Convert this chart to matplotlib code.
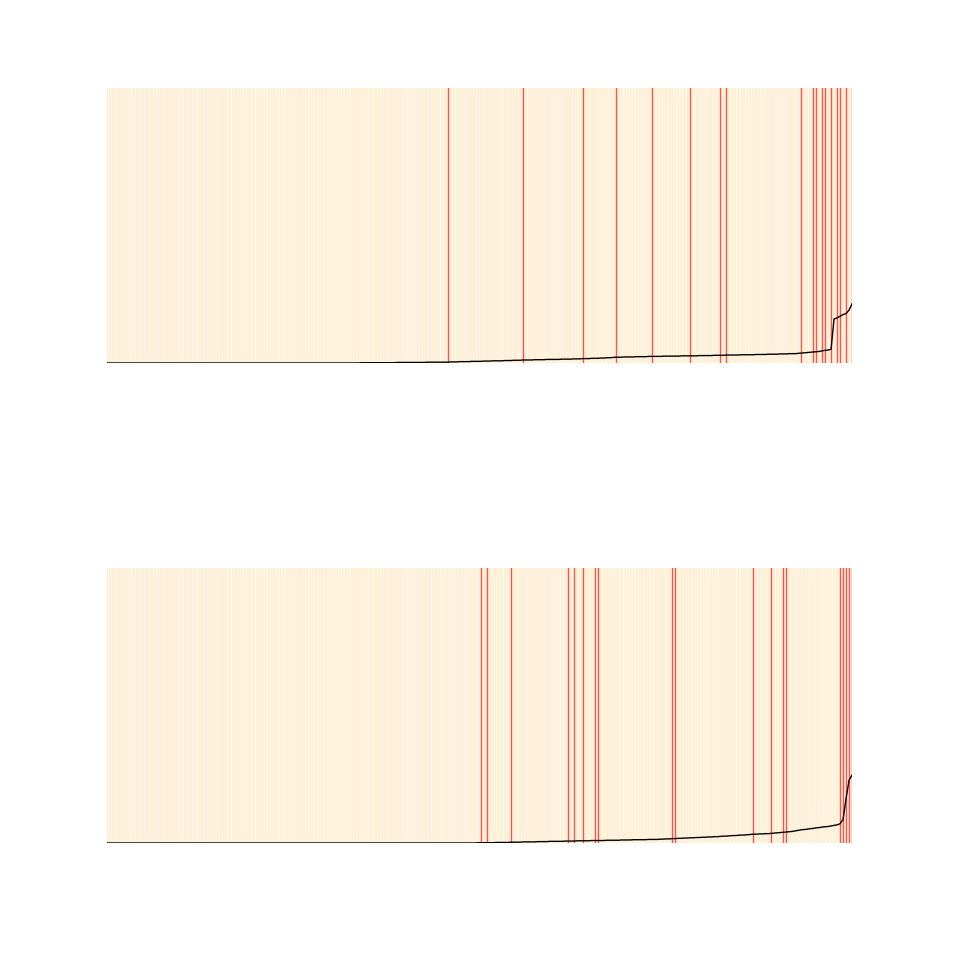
import numpy as np
import matplotlib
matplotlib.use("Agg")
import matplotlib.pyplot as plt

# sorted scores, one value per item (fraction of the axis height)
top_vals = [
    0.000, 0.000, 0.000, 0.000, 0.000, 0.000, 0.000, 0.000, 0.000, 0.000,
    0.000, 0.000, 0.000, 0.000, 0.000, 0.000, 0.000, 0.000, 0.000, 0.000,
    0.000, 0.000, 0.000, 0.000, 0.000, 0.000, 0.000, 0.000, 0.000, 0.000,
    0.000, 0.000, 0.000, 0.000, 0.000, 0.000, 0.000, 0.000, 0.000, 0.000,
    0.000, 0.000, 0.000, 0.000, 0.000, 0.000, 0.000, 0.000, 0.000, 0.000,
    0.000, 0.000, 0.000, 0.000, 0.000, 0.000, 0.000, 0.000, 0.000, 0.000,
    0.000, 0.000, 0.000, 0.000, 0.000, 0.000, 0.000, 0.000, 0.000, 0.000,
    0.000, 0.000, 0.000, 0.000, 0.000, 0.000, 0.000, 0.000, 0.000, 0.000,
    0.000, 0.000, 0.000, 0.000, 0.000, 0.001, 0.001, 0.001, 0.001, 0.001,
    0.001, 0.001, 0.001, 0.001, 0.001, 0.001, 0.001, 0.002, 0.002, 0.002,
    0.002, 0.002, 0.002, 0.002, 0.002, 0.002, 0.002, 0.003, 0.003, 0.003,
    0.003, 0.003, 0.003, 0.003, 0.003, 0.004, 0.004, 0.004, 0.005, 0.005,
    0.005, 0.005, 0.006, 0.006, 0.006, 0.006, 0.007, 0.007, 0.007, 0.008,
    0.008, 0.008, 0.008, 0.009, 0.009, 0.009, 0.010, 0.010, 0.010, 0.011,
    0.011, 0.011, 0.011, 0.012, 0.012, 0.012, 0.012, 0.013, 0.013, 0.013,
    0.013, 0.013, 0.014, 0.014, 0.014, 0.014, 0.015, 0.015, 0.015, 0.016,
    0.016, 0.016, 0.017, 0.017, 0.017, 0.018, 0.018, 0.019, 0.019, 0.020,
    0.021, 0.021, 0.021, 0.022, 0.022, 0.022, 0.022, 0.023, 0.023, 0.023,
    0.023, 0.024, 0.024, 0.024, 0.024, 0.024, 0.025, 0.025, 0.025, 0.025,
    0.025, 0.025, 0.026, 0.026, 0.026, 0.026, 0.026, 0.026, 0.027, 0.027,
    0.027, 0.027, 0.027, 0.028, 0.028, 0.028, 0.028, 0.029, 0.029, 0.029,
    0.029, 0.029, 0.030, 0.030, 0.030, 0.030, 0.030, 0.031, 0.031, 0.031,
    0.031, 0.032, 0.032, 0.032, 0.032, 0.033, 0.033, 0.033, 0.034, 0.034,
    0.034, 0.035, 0.036, 0.037, 0.038, 0.039, 0.040, 0.041, 0.042, 0.044,
    0.046, 0.047, 0.050, 0.160, 0.164, 0.170, 0.176, 0.180, 0.192, 0.215,
]
bottom_vals = [
    0.000, 0.000, 0.000, 0.000, 0.000, 0.000, 0.000, 0.000, 0.000, 0.000,
    0.000, 0.000, 0.000, 0.000, 0.000, 0.000, 0.000, 0.000, 0.000, 0.000,
    0.000, 0.000, 0.000, 0.000, 0.000, 0.000, 0.000, 0.000, 0.000, 0.000,
    0.000, 0.000, 0.000, 0.000, 0.000, 0.000, 0.000, 0.000, 0.000, 0.000,
    0.000, 0.000, 0.000, 0.000, 0.000, 0.000, 0.000, 0.000, 0.000, 0.000,
    0.000, 0.000, 0.000, 0.000, 0.000, 0.000, 0.000, 0.000, 0.000, 0.000,
    0.000, 0.000, 0.000, 0.000, 0.000, 0.000, 0.000, 0.000, 0.000, 0.000,
    0.000, 0.000, 0.000, 0.000, 0.000, 0.000, 0.000, 0.000, 0.000, 0.000,
    0.000, 0.000, 0.000, 0.000, 0.000, 0.000, 0.000, 0.000, 0.000, 0.000,
    0.000, 0.000, 0.000, 0.000, 0.000, 0.000, 0.000, 0.000, 0.000, 0.000,
    0.000, 0.000, 0.000, 0.000, 0.000, 0.000, 0.000, 0.000, 0.000, 0.000,
    0.000, 0.000, 0.000, 0.000, 0.000, 0.000, 0.000, 0.000, 0.000, 0.000,
    0.000, 0.000, 0.000, 0.000, 0.001, 0.001, 0.001, 0.001, 0.001, 0.001,
    0.002, 0.002, 0.002, 0.002, 0.002, 0.003, 0.003, 0.003, 0.003, 0.004,
    0.004, 0.004, 0.004, 0.004, 0.005, 0.005, 0.005, 0.005, 0.006, 0.006,
    0.006, 0.006, 0.006, 0.007, 0.007, 0.007, 0.007, 0.008, 0.008, 0.008,
    0.008, 0.008, 0.009, 0.009, 0.009, 0.009, 0.009, 0.010, 0.010, 0.010,
    0.010, 0.010, 0.011, 0.011, 0.011, 0.011, 0.012, 0.012, 0.012, 0.012,
    0.012, 0.013, 0.013, 0.013, 0.013, 0.014, 0.014, 0.015, 0.015, 0.016,
    0.016, 0.017, 0.017, 0.018, 0.018, 0.019, 0.019, 0.020, 0.020, 0.021,
    0.021, 0.022, 0.022, 0.023, 0.023, 0.024, 0.025, 0.025, 0.026, 0.027,
    0.027, 0.028, 0.029, 0.029, 0.030, 0.031, 0.032, 0.032, 0.033, 0.033,
    0.034, 0.034, 0.035, 0.036, 0.037, 0.038, 0.039, 0.040, 0.041, 0.042,
    0.044, 0.046, 0.048, 0.049, 0.050, 0.052, 0.053, 0.055, 0.056, 0.058,
    0.059, 0.060, 0.062, 0.064, 0.066, 0.070, 0.085, 0.160, 0.228, 0.247,
]
# items flagged in red
top_marked = [114, 139, 159, 170, 182, 195, 205, 207, 232, 236, 237, 239,
              240, 242, 244, 245, 247, 249]
bottom_marked = [125, 127, 135, 154, 156, 159, 163, 164, 189, 190, 216, 222,
                 226, 227, 245, 246, 247, 248, 249]

fig = plt.figure(figsize=(9.6, 9.6), dpi=100)
ax1 = fig.add_axes([107/960, 1-363/960, 745/960, 275/960])
ax2 = fig.add_axes([107/960, 1-843/960, 745/960, 275/960])

for ax, vals, marked in [(ax1, top_vals, top_marked), (ax2, bottom_vals, bottom_marked)]:
    x = np.arange(len(vals))
    for i in x:
        ax.axvline(i, color="orange", alpha=0.17, lw=1.8, snap=False, zorder=1)
    for i in marked:
        ax.axvline(i, color="red", alpha=0.65, lw=1, zorder=2)
    ax.plot(x, vals, color="black", lw=1, zorder=3)
    ax.set_xlim(0, len(vals)-1)
    ax.set_ylim(0, 1)
    ax.axis("off")

fig.savefig("out.png", dpi=100)
